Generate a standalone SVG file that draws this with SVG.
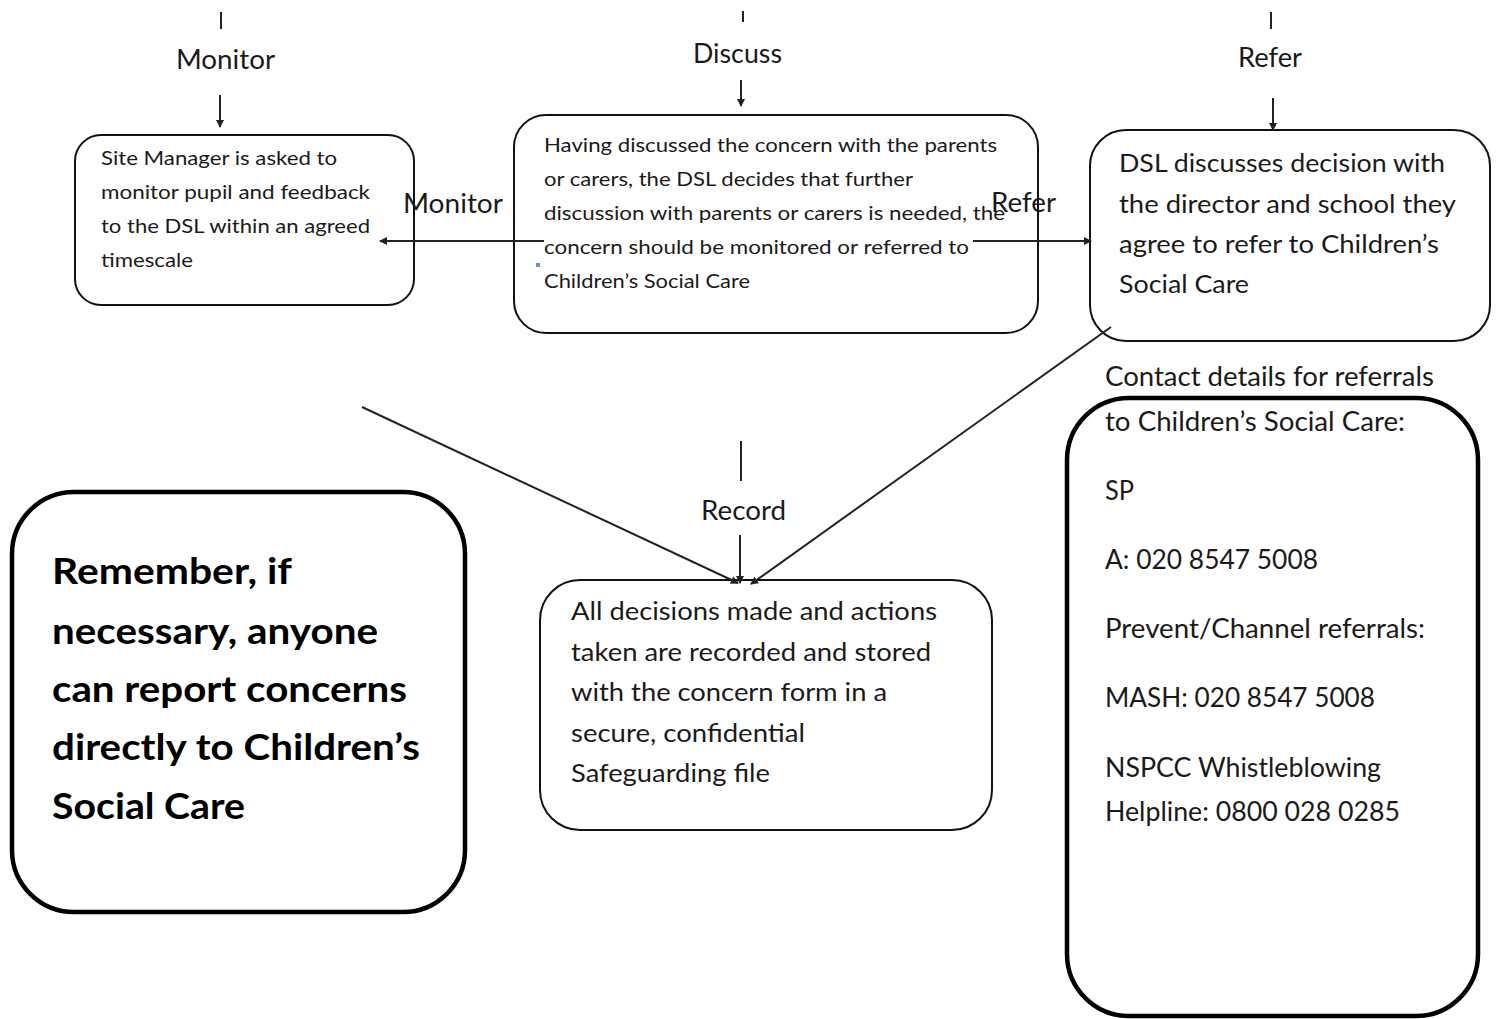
<svg xmlns="http://www.w3.org/2000/svg" width="1497" height="1019" viewBox="0 0 1497 1019">
<style>
text{font-family:Lato,"Liberation Sans",sans-serif;fill:#1a1a1a}
.box{fill:#fff;stroke:#111;stroke-width:2}
.thick{fill:#fff;stroke:#000;stroke-width:4.5}
.ln{stroke:#222;stroke-width:2;fill:none}
.lbl{font-size:26px}
.s{font-size:20px}
.m{font-size:25px}
.l{font-size:27px}
.b{font-size:37px;font-weight:bold;fill:#000}
</style>
<defs>
<marker id="ah" markerWidth="8" markerHeight="8" refX="7" refY="4" orient="auto" markerUnits="userSpaceOnUse">
<path d="M0,0 L8,4 L0,8 z" fill="#222"/>
</marker>
</defs>
<g id="node-site-manager">
<rect class="box" x="75" y="135" width="339" height="170" rx="26"/>
<text class="s" x="101" y="165" textLength="236" lengthAdjust="spacingAndGlyphs">Site Manager is asked to</text>
<text class="s" x="101" y="199" textLength="269" lengthAdjust="spacingAndGlyphs">monitor pupil and feedback</text>
<text class="s" x="101" y="233" textLength="269" lengthAdjust="spacingAndGlyphs">to the DSL within an agreed</text>
<text class="s" x="101" y="267" textLength="92" lengthAdjust="spacingAndGlyphs">timescale</text>
</g>
<g id="node-discuss">
<rect class="box" x="514" y="115" width="524" height="218" rx="32"/>
<rect x="536" y="263" width="4" height="4" fill="#6a8fd8"/>
<text class="s" x="544" y="152" textLength="453" lengthAdjust="spacingAndGlyphs">Having discussed the concern with the parents</text>
<text class="s" x="544" y="186" textLength="369" lengthAdjust="spacingAndGlyphs">or carers, the DSL decides that further</text>
<text class="s" x="544" y="220" textLength="461" lengthAdjust="spacingAndGlyphs">discussion with parents or carers is needed, the</text>
<text class="s" x="544" y="254" textLength="425" lengthAdjust="spacingAndGlyphs">concern should be monitored or referred to</text>
<text class="s" x="544" y="288" textLength="206" lengthAdjust="spacingAndGlyphs">Children’s Social Care</text>
</g>
<g id="node-refer">
<rect class="box" x="1090" y="130" width="400" height="211" rx="36"/>
<text class="m" x="1119" y="172" textLength="326" lengthAdjust="spacingAndGlyphs">DSL discusses decision with</text>
<text class="m" x="1119" y="213" textLength="337" lengthAdjust="spacingAndGlyphs">the director and school they</text>
<text class="m" x="1119" y="253" textLength="320" lengthAdjust="spacingAndGlyphs">agree to refer to Children’s</text>
<text class="m" x="1119" y="293" textLength="130" lengthAdjust="spacingAndGlyphs">Social Care</text>
</g>
<g id="node-record">
<rect class="box" x="540" y="580" width="452" height="250" rx="40"/>
<text class="m" x="571" y="620" textLength="366" lengthAdjust="spacingAndGlyphs">All decisions made and actions</text>
<text class="m" x="571" y="661" textLength="360" lengthAdjust="spacingAndGlyphs">taken are recorded and stored</text>
<text class="m" x="571" y="701" textLength="316" lengthAdjust="spacingAndGlyphs">with the concern form in a</text>
<text class="m" x="571" y="742" textLength="234" lengthAdjust="spacingAndGlyphs">secure, confidential</text>
<text class="m" x="571" y="782" textLength="199" lengthAdjust="spacingAndGlyphs">Safeguarding file</text>
</g>
<g id="node-remember">
<rect class="thick" x="12" y="492" width="453" height="420" rx="62"/>
<text class="b" x="52" y="584" textLength="240" lengthAdjust="spacingAndGlyphs">Remember, if</text>
<text class="b" x="52" y="644" textLength="326" lengthAdjust="spacingAndGlyphs">necessary, anyone</text>
<text class="b" x="52" y="702" textLength="355" lengthAdjust="spacingAndGlyphs">can report concerns</text>
<text class="b" x="52" y="760" textLength="368" lengthAdjust="spacingAndGlyphs">directly to Children’s</text>
<text class="b" x="52" y="819" textLength="193" lengthAdjust="spacingAndGlyphs">Social Care</text>
</g>
<g id="node-contact">
<rect class="thick" x="1067" y="398" width="411" height="618" rx="62"/>
<text class="l" x="1105" y="386" textLength="329" lengthAdjust="spacingAndGlyphs">Contact details for referrals</text>
<text class="l" x="1105" y="431" textLength="300" lengthAdjust="spacingAndGlyphs">to Children’s Social Care:</text>
<text class="l" x="1105" y="500" textLength="29" lengthAdjust="spacingAndGlyphs">SP</text>
<text class="l" x="1105" y="569" textLength="213" lengthAdjust="spacingAndGlyphs">A: 020 8547 5008</text>
<text class="l" x="1105" y="638" textLength="320" lengthAdjust="spacingAndGlyphs">Prevent/Channel referrals:</text>
<text class="l" x="1105" y="707" textLength="270" lengthAdjust="spacingAndGlyphs">MASH: 020 8547 5008</text>
<text class="l" x="1105" y="777" textLength="276" lengthAdjust="spacingAndGlyphs">NSPCC Whistleblowing</text>
<text class="l" x="1105" y="821" textLength="295" lengthAdjust="spacingAndGlyphs">Helpline: 0800 028 0285</text>
</g>
<g id="connectors">
<line class="ln" x1="221" y1="12" x2="221" y2="29"/>
<line class="ln" x1="220" y1="95" x2="220" y2="127" marker-end="url(#ah)"/>
<line class="ln" x1="743" y1="11" x2="743" y2="22"/>
<line class="ln" x1="741" y1="80" x2="741" y2="106" marker-end="url(#ah)"/>
<line class="ln" x1="1271" y1="12" x2="1271" y2="29"/>
<line class="ln" x1="1273" y1="98" x2="1273" y2="130" marker-end="url(#ah)"/>
<line class="ln" x1="544" y1="241" x2="380" y2="241" marker-end="url(#ah)"/>
<line class="ln" x1="973" y1="241" x2="1091" y2="241" marker-end="url(#ah)"/>
<line class="ln" x1="741" y1="441" x2="741" y2="481"/>
<line class="ln" x1="740" y1="535" x2="740" y2="583" marker-end="url(#ah)"/>
<line class="ln" x1="362" y1="407" x2="738" y2="583" marker-end="url(#ah)"/>
<line class="ln" x1="1111" y1="327" x2="751" y2="584" marker-end="url(#ah)"/>
<text class="lbl" x="176" y="69" textLength="99" lengthAdjust="spacingAndGlyphs">Monitor</text>
<text class="lbl" x="693" y="63" textLength="89" lengthAdjust="spacingAndGlyphs">Discuss</text>
<text class="lbl" x="1238" y="67" textLength="64" lengthAdjust="spacingAndGlyphs">Refer</text>
<text class="lbl" x="701" y="520" textLength="85" lengthAdjust="spacingAndGlyphs">Record</text>
<text class="lbl" x="403" y="213" textLength="100" lengthAdjust="spacingAndGlyphs">Monitor</text>
<text class="lbl" x="991" y="212" textLength="65" lengthAdjust="spacingAndGlyphs">Refer</text>
</g>
</svg>
